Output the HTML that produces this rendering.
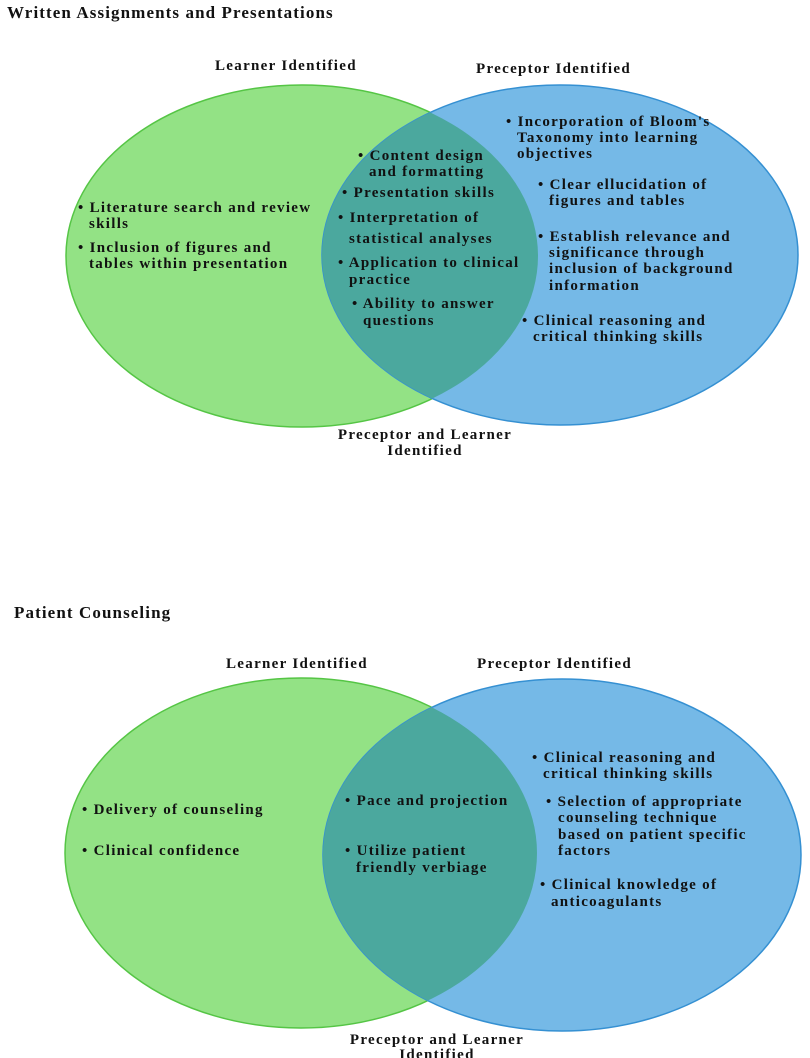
<!DOCTYPE html>
<html><head><meta charset="utf-8"><style>
html,body{margin:0;padding:0;background:#fff;}
svg{display:block}
text{font-family:"Liberation Serif",serif;font-weight:bold;font-size:15px;letter-spacing:1.3px;fill:#111;}
.t{font-size:17px;letter-spacing:1.1px}
</style></head><body>
<svg width="810" height="1058" viewBox="0 0 810 1058" xmlns="http://www.w3.org/2000/svg">
<defs>
<clipPath id="c1"><ellipse cx="302" cy="256" rx="236" ry="171"/></clipPath>
<clipPath id="c2"><ellipse cx="301" cy="853" rx="236" ry="175"/></clipPath>
</defs>
<text class="t" x="7" y="18">Written Assignments and Presentations</text>
<ellipse cx="302" cy="256" rx="236" ry="171" fill="#93e285" stroke="#55c545" stroke-width="1.5"/>
<ellipse cx="560" cy="255" rx="238" ry="170" fill="#75b9e7" stroke="#3590d2" stroke-width="1.5"/>
<ellipse cx="560" cy="255" rx="238" ry="170" fill="#4ba89e" clip-path="url(#c1)"/>
<text x="215" y="70">Learner Identified</text>
<text x="476" y="73">Preceptor Identified</text>
<text x="78" y="212">• Literature search and review</text>
<text x="89" y="228">skills</text>
<text x="78" y="252">• Inclusion of figures and</text>
<text x="89" y="268">tables within presentation</text>
<text x="358" y="160">• Content design</text>
<text x="369" y="176">and formatting</text>
<text x="342" y="197">• Presentation skills</text>
<text x="338" y="222">• Interpretation of</text>
<text x="349" y="243">statistical analyses</text>
<text x="338" y="267">• Application to clinical</text>
<text x="349" y="284">practice</text>
<text x="352" y="308">• Ability to answer</text>
<text x="363" y="325">questions</text>
<text x="506" y="126">• Incorporation of Bloom's</text>
<text x="517" y="142">Taxonomy into learning</text>
<text x="517" y="158">objectives</text>
<text x="538" y="189">• Clear ellucidation of</text>
<text x="549" y="205">figures and tables</text>
<text x="538" y="241">• Establish relevance and</text>
<text x="549" y="257">significance through</text>
<text x="549" y="273">inclusion of background</text>
<text x="549" y="290">information</text>
<text x="522" y="325">• Clinical reasoning and</text>
<text x="533" y="341">critical thinking skills</text>
<text x="425" y="439" text-anchor="middle">Preceptor and Learner</text>
<text x="425" y="455" text-anchor="middle">Identified</text>
<text class="t" x="14" y="618">Patient Counseling</text>
<ellipse cx="301" cy="853" rx="236" ry="175" fill="#93e285" stroke="#55c545" stroke-width="1.5"/>
<ellipse cx="562" cy="855" rx="239" ry="176" fill="#75b9e7" stroke="#3590d2" stroke-width="1.5"/>
<ellipse cx="562" cy="855" rx="239" ry="176" fill="#4ba89e" clip-path="url(#c2)"/>
<text x="226" y="668">Learner Identified</text>
<text x="477" y="668">Preceptor Identified</text>
<text x="82" y="814">• Delivery of counseling</text>
<text x="82" y="855">• Clinical confidence</text>
<text x="345" y="805">• Pace and projection</text>
<text x="345" y="855">• Utilize patient</text>
<text x="356" y="872">friendly verbiage</text>
<text x="532" y="762">• Clinical reasoning and</text>
<text x="543" y="778">critical thinking skills</text>
<text x="546" y="806">• Selection of appropriate</text>
<text x="558" y="822">counseling technique</text>
<text x="558" y="839">based on patient specific</text>
<text x="558" y="855">factors</text>
<text x="540" y="889">• Clinical knowledge of</text>
<text x="551" y="906">anticoagulants</text>
<text x="437" y="1044" text-anchor="middle">Preceptor and Learner</text>
<text x="437" y="1059" text-anchor="middle">Identified</text>
</svg>
</body></html>
